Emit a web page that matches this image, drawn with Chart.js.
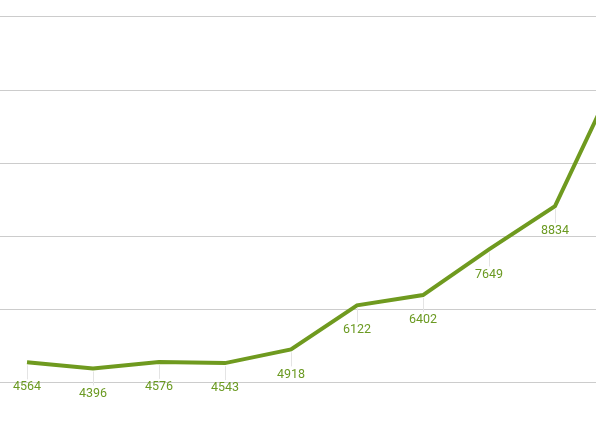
<!DOCTYPE html>
<html>
<head>
<meta charset="utf-8">
<script src="https://cdn.jsdelivr.net/npm/chart.js@4/dist/chart.umd.min.js"></script>
<style>
  html, body { margin: 0; padding: 0; background: #ffffff; }
  #wrap { width: 596px; height: 441px; }
</style>
</head>
<body>
<div id="wrap"><canvas id="c" width="596" height="441"></canvas></div>
<script>
const categories = ['1', '2', '3', '4', '5', '6', '7', '8', '9', '10'];
const values = [4564, 4396, 4576, 4543, 4918, 6122, 6402, 7649, 8834, 12650];
const yTicks = [4000, 6000, 8000, 10000, 12000, 14000];

const lineColor = '#6f9a1f';
const labelColor = '#6b9a22';

const points = categories.map((c, i) => ({ x: i, y: values[i] }));

const labelPlugin = {
  id: 'valueLabels',
  afterDatasetsDraw(chart) {
    const ctx = chart.ctx;
    const meta = chart.getDatasetMeta(0);
    const area = chart.chartArea;
    ctx.save();
    ctx.font = '12.5px Roboto';
    ctx.textAlign = 'center';
    ctx.textBaseline = 'middle';
    meta.data.forEach((el, i) => {
      if (el.x < area.left || el.x > area.right) return;
      ctx.strokeStyle = '#e4e4e4';
      ctx.lineWidth = 1;
      ctx.beginPath();
      ctx.moveTo(Math.round(el.x) + 0.5, el.y + 3);
      ctx.lineTo(Math.round(el.x) + 0.5, el.y + 17);
      ctx.stroke();
      ctx.fillStyle = labelColor;
      ctx.fillText(String(values[i]), el.x, el.y + 25);
    });
    ctx.restore();
  }
};

new Chart(document.getElementById('c'), {
  type: 'line',
  data: {
    datasets: [{
      data: points,
      borderColor: lineColor,
      borderWidth: 4,
      pointRadius: 0,
      pointHoverRadius: 0,
      fill: false,
      tension: 0
    }]
  },
  options: {
    responsive: false,
    animation: false,
    events: [],
    layout: { padding: 0 },
    plugins: { legend: { display: false }, tooltip: { enabled: false } },
    scales: {
      x: {
        type: 'linear',
        display: false,
        min: -0.409,
        max: 8.621
      },
      y: {
        display: true,
        min: 2415,
        max: 14464,
        afterBuildTicks(scale) { scale.ticks = yTicks.map(v => ({ value: v })); },
        ticks: { display: false },
        border: { display: false },
        grid: { color: '#cccccc', lineWidth: 1, drawTicks: false }
      }
    }
  },
  plugins: [labelPlugin]
});
</script>
</body>
</html>
